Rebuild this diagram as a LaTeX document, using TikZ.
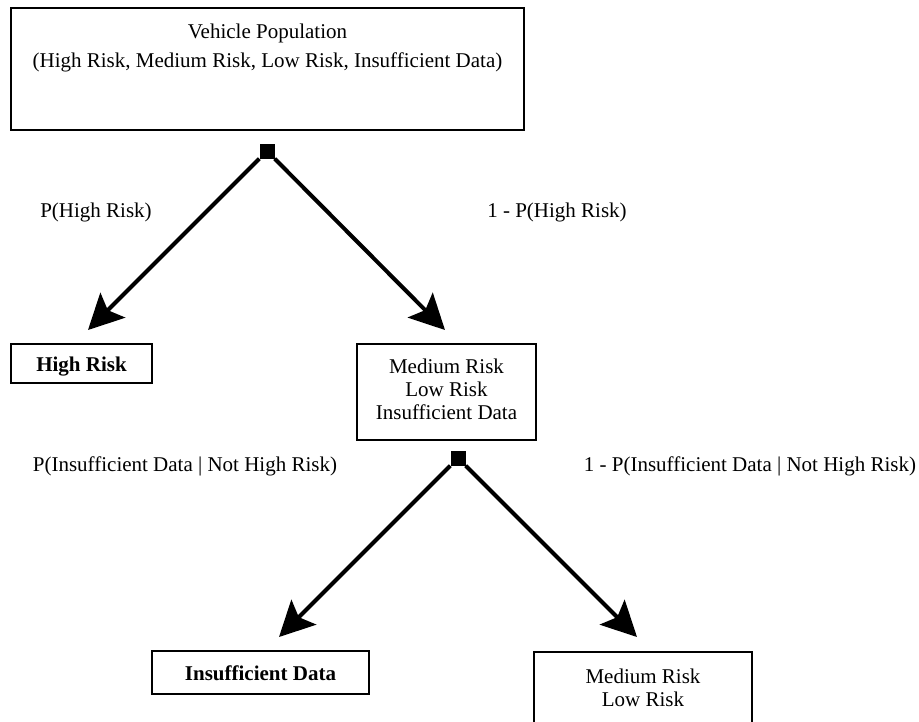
\documentclass[tikz,border=0pt]{standalone}
\usepackage{fontspec}
\setmainfont{Liberation Serif}
\usetikzlibrary{arrows.meta}
\begin{document}
\begin{tikzpicture}[x=1pt,y=-1pt,font=\fontsize{21}{23}\selectfont]
\tikzset{
  box/.style={draw,line width=1.3pt,rectangle,inner sep=0pt},
  txt/.style={align=center,inner sep=0pt},
  arr/.style={line width=4pt,-{Stealth[length=35pt,width=35pt,inset=7pt]}},
  junction/.style={fill,rectangle,minimum size=15pt,inner sep=0pt}
}
\useasboundingbox[fill=white] (0,0) rectangle (919,721);
% top box
\node[box,minimum width=513pt,minimum height=122pt] (pop) at (267.5,69) {};
\node[txt,font=\fontsize{21}{29}\selectfont] (poptext) at (267.5,47.5) {Vehicle Population\\(High Risk, Medium Risk, Low Risk, Insufficient Data)};
\node[junction] (s1) at (267,151) {};
% level 1
\node[box,minimum width=141pt,minimum height=39pt] (hr) at (81.5,363.5) {};
\node[txt,font=\fontsize{21}{23}\selectfont\bfseries] (hrtext) at (81.5,367) {High Risk};
\node[box,minimum width=179pt,minimum height=96pt] (rest) at (446.5,392) {};
\node[txt] (resttext) at (446.5,389.5) {Medium Risk\\Low Risk\\Insufficient Data};
\coordinate (t1) at (88,330);
\coordinate (t2) at (445,330);
\draw[arr] (s1.south west) -- (t1);
\draw[arr] (s1.south east) -- (t2);
\node[txt] (p1) at (96,212) {P(High Risk)};
\node[txt] (p2) at (557,212) {1 - P(High Risk)};
% level 2
\node[junction] (s2) at (458,458) {};
\node[box,minimum width=217pt,minimum height=43pt] (id) at (260.5,672.5) {};
\node[txt,font=\fontsize{21}{23}\selectfont\bfseries] (idtext) at (260.5,673.5) {Insufficient Data};
\node[box,minimum width=218pt,minimum height=90pt] (ml) at (643,697) {};
\node[txt] (mltext) at (643,688) {Medium Risk\\Low Risk};
\coordinate (t3) at (279,637);
\coordinate (t4) at (637,637);
\draw[arr] (s2.south west) -- (t3);
\draw[arr] (s2.south east) -- (t4);
\node[txt] (p3) at (185,466) {P(Insufficient Data | Not High Risk)};
\node[txt] (p4) at (750,466) {1 - P(Insufficient Data | Not High Risk)};
\end{tikzpicture}
\end{document}
